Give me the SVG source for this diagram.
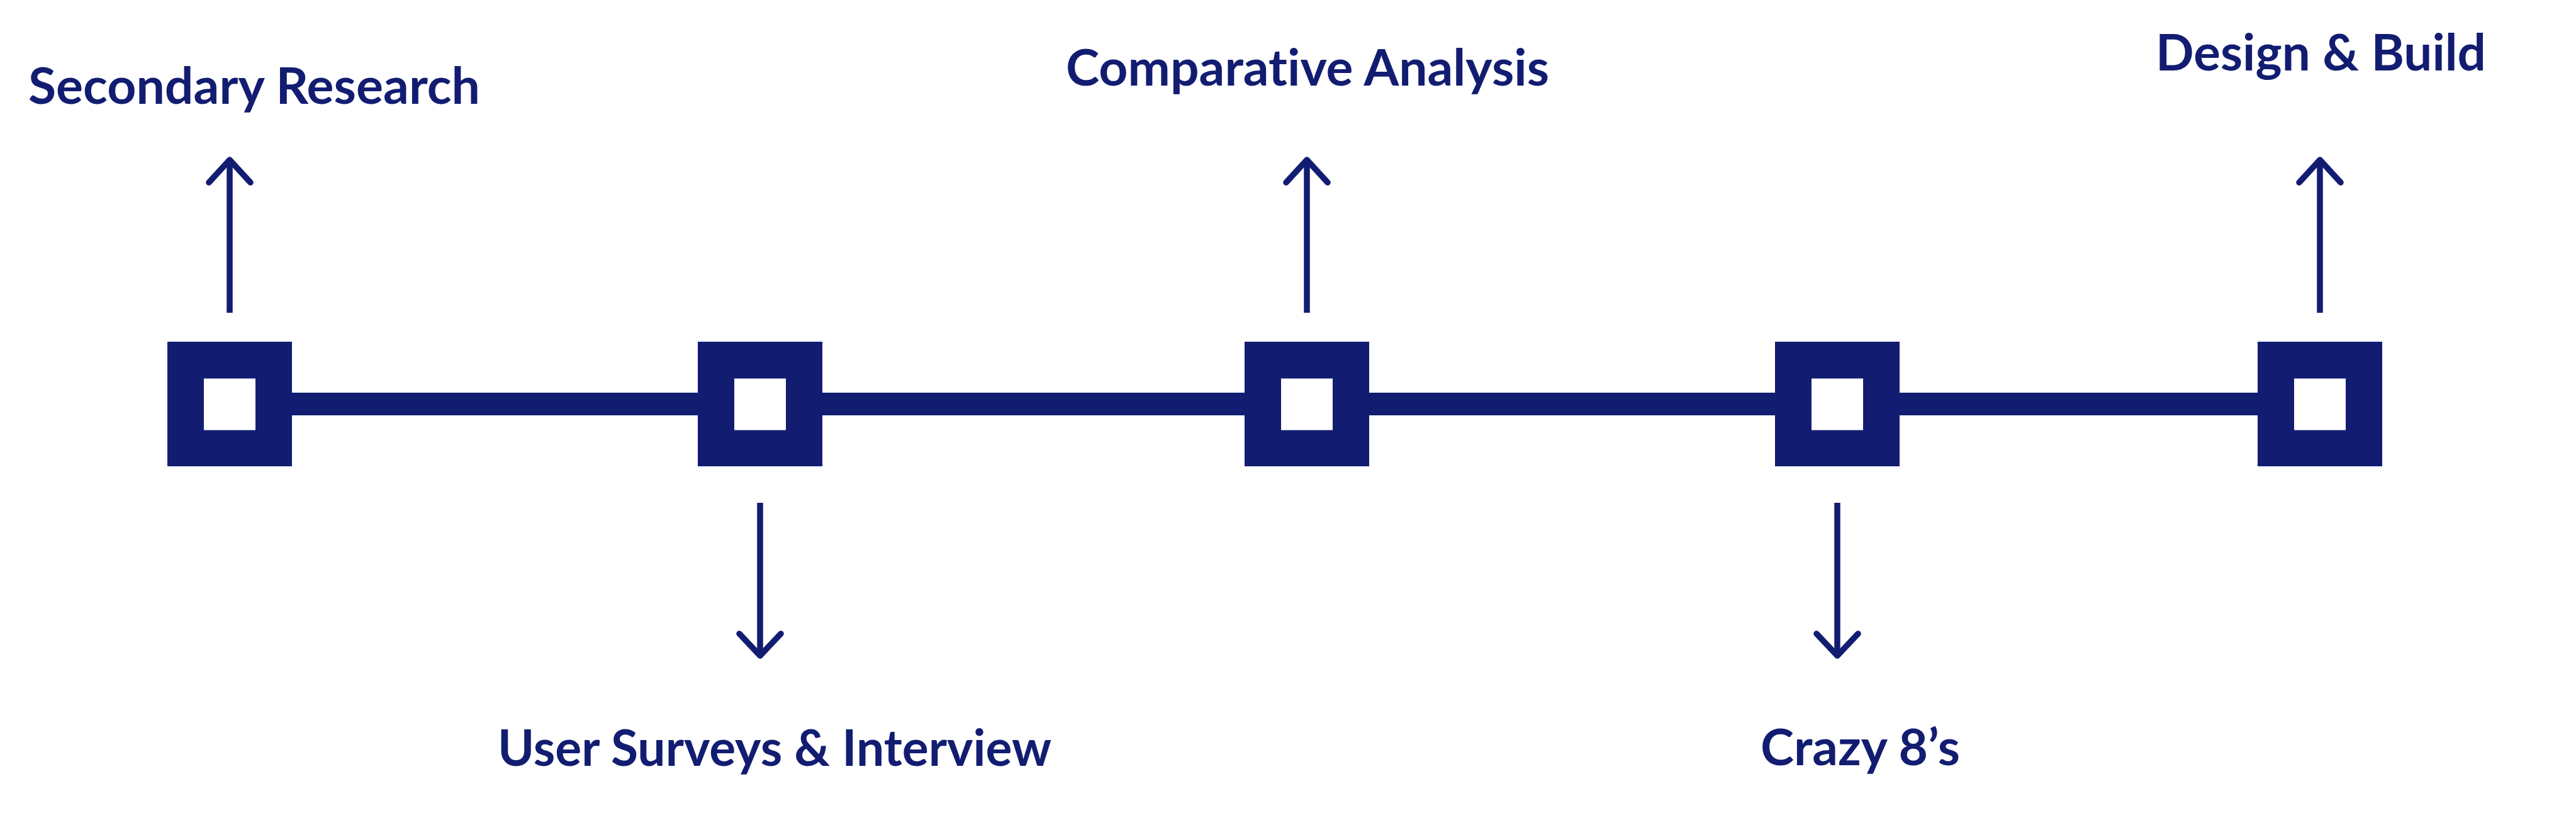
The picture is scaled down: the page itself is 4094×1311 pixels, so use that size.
<svg xmlns="http://www.w3.org/2000/svg" width="4094" height="1311" viewBox="0 0 4094 1311">
<style>
.bg{fill:#ffffff}
.node rect.outer{fill:#121d71}
.node rect.inner{fill:#ffffff}
.track{fill:#121d71}
.arrow{fill:none;stroke:#121d71;stroke-width:9.5}
.head{fill:none;stroke:#121d71;stroke-width:9.5;stroke-linecap:round;stroke-linejoin:round}
.label{font-family:Lato,"Liberation Sans",sans-serif;font-weight:700;font-size:80px;fill:#121d71;font-variant-ligatures:none}
</style>
<rect class="bg" x="0" y="0" width="4094" height="1311"/>
<g id="connectors">
  <rect class="track" x="460" y="624" width="3130" height="36"/>
  <g id="arrow-1"><line class="arrow" x1="365" y1="497" x2="365" y2="258"/><polyline class="head" points="332,290 365,254 398,290"/></g>
  <g id="arrow-2"><line class="arrow" x1="1208" y1="799" x2="1208" y2="1038"/><polyline class="head" points="1175,1007 1208,1042 1241,1007"/></g>
  <g id="arrow-3"><line class="arrow" x1="2077" y1="497" x2="2077" y2="258"/><polyline class="head" points="2044,290 2077,254 2110,290"/></g>
  <g id="arrow-4"><line class="arrow" x1="2920" y1="799" x2="2920" y2="1038"/><polyline class="head" points="2887,1007 2920,1042 2953,1007"/></g>
  <g id="arrow-5"><line class="arrow" x1="3687" y1="497" x2="3687" y2="258"/><polyline class="head" points="3654,290 3687,254 3720,290"/></g>
</g>
<g id="node-1" class="node"><rect class="outer" x="266" y="543" width="198" height="198"/><rect class="inner" x="324" y="601.5" width="82" height="82"/></g>
<g id="node-2" class="node"><rect class="outer" x="1109" y="543" width="198" height="198"/><rect class="inner" x="1167" y="601.5" width="82" height="82"/></g>
<g id="node-3" class="node"><rect class="outer" x="1978" y="543" width="198" height="198"/><rect class="inner" x="2036" y="601.5" width="82" height="82"/></g>
<g id="node-4" class="node"><rect class="outer" x="2821" y="543" width="198" height="198"/><rect class="inner" x="2879" y="601.5" width="82" height="82"/></g>
<g id="node-5" class="node"><rect class="outer" x="3588" y="543" width="198" height="198"/><rect class="inner" x="3646" y="601.5" width="82" height="82"/></g>
<g id="labels">
  <text id="label-1" class="label" x="45" y="165" textLength="718" lengthAdjust="spacingAndGlyphs">Secondary Research</text>
  <text id="label-2" class="label" x="791" y="1217" textLength="880" lengthAdjust="spacingAndGlyphs">User Surveys &amp; Interview</text>
  <text id="label-3" class="label" x="1694" y="136" textLength="768" lengthAdjust="spacingAndGlyphs">Comparative Analysis</text>
  <text id="label-4" class="label" x="2798" y="1216" textLength="317" lengthAdjust="spacingAndGlyphs">Crazy 8’s</text>
  <text id="label-5" class="label" x="3426" y="112" textLength="525" lengthAdjust="spacingAndGlyphs">Design &amp; Build</text>
</g>
</svg>
